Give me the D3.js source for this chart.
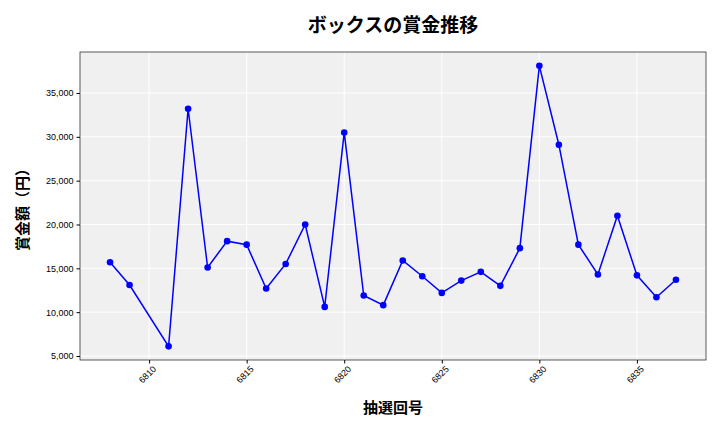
<!DOCTYPE html>
<html><head><meta charset="utf-8">
<script src="https://cdn.jsdelivr.net/npm/d3@7"></script>
<style>body{margin:0;background:#fff;font-family:"Noto Sans CJK JP","DejaVu Sans",sans-serif;}</style>
</head><body><svg id="chart" width="720" height="432"></svg>
<script>
// draw numbers and prize amounts
const draws = [6808,6809,6811,6812,6813,6814,6815,6816,6817,6818,6819,6820,6821,6822,6823,6824,6825,6826,6827,6828,6829,6830,6831,6832,6833,6834,6835,6836,6837];
const prizes = [15700,13100,6100,33200,15100,18100,17700,12700,15500,20000,10600,30500,11900,10800,15900,14100,12200,13600,14600,13000,17300,38100,29100,17700,14300,21000,14200,11700,13700];
const xTicks = [6810,6815,6820,6825,6830,6835];
const yTicks = [5000,10000,15000,20000,25000,30000,35000];

const svg = d3.select('#chart');
const m = {l: 80, r: 706, t: 52, b: 360};
const x = d3.scaleLinear().domain([6806.46, 6838.54]).range([m.l, m.r]);
const y = d3.scaleLinear().domain([4544, 39675]).range([m.b, m.t]);

svg.append('rect').attr('x', m.l).attr('y', m.t).attr('width', m.r - m.l).attr('height', m.b - m.t).attr('fill', '#f0f0f0');

// grid
svg.append('g').selectAll('line').data(xTicks).join('line')
  .attr('x1', d => x(d)).attr('x2', d => x(d)).attr('y1', m.t).attr('y2', m.b)
  .attr('stroke', '#fff').attr('stroke-width', 1);
svg.append('g').selectAll('line').data(yTicks).join('line')
  .attr('y1', d => y(d)).attr('y2', d => y(d)).attr('x1', m.l).attr('x2', m.r)
  .attr('stroke', '#fff').attr('stroke-width', 1);

svg.append('rect').attr('x', m.l).attr('y', m.t).attr('width', m.r - m.l).attr('height', m.b - m.t)
  .attr('fill', 'none').attr('stroke', '#333').attr('stroke-width', 0.8);

// axes
const xa = svg.append('g').attr('transform', `translate(0,${m.b})`)
  .call(d3.axisBottom(x).tickValues(xTicks).tickFormat(d3.format('d')).tickSize(3.5));
xa.select('.domain').remove();
xa.selectAll('text').attr('font-size', 9).attr('fill', '#000')
  .attr('transform', 'rotate(-45)').attr('text-anchor', 'end').attr('dx', '-0.2em').attr('dy', '0.6em');

const ya = svg.append('g').attr('transform', `translate(${m.l},0)`)
  .call(d3.axisLeft(y).tickValues(yTicks).tickFormat(d3.format(',')).tickSize(3.5));
ya.select('.domain').remove();
ya.selectAll('text').attr('font-size', 9).attr('fill', '#000');

// line + points
svg.append('path').datum(draws.map((d, i) => [d, prizes[i]]))
  .attr('d', d3.line().x(d => x(d[0])).y(d => y(d[1])))
  .attr('fill', 'none').attr('stroke', '#0000ff').attr('stroke-width', 1.5);
svg.append('g').selectAll('circle').data(draws).join('circle')
  .attr('cx', d => x(d)).attr('cy', (d, i) => y(prizes[i])).attr('r', 3.3).attr('fill', '#0000ff');

// titles
svg.append('text').attr('x', 393).attr('y', 32).attr('text-anchor', 'middle')
  .attr('font-size', 19).attr('font-weight', 'bold').text('ボックスの賞金推移');
svg.append('text').attr('x', 393).attr('y', 413).attr('text-anchor', 'middle')
  .attr('font-size', 15).attr('font-weight', 'bold').text('抽選回号');
svg.append('text').attr('transform', 'translate(28,206) rotate(-90)').attr('text-anchor', 'middle')
  .attr('font-size', 15).attr('font-weight', 'bold').text('賞金額（円）');
</script></body></html>
